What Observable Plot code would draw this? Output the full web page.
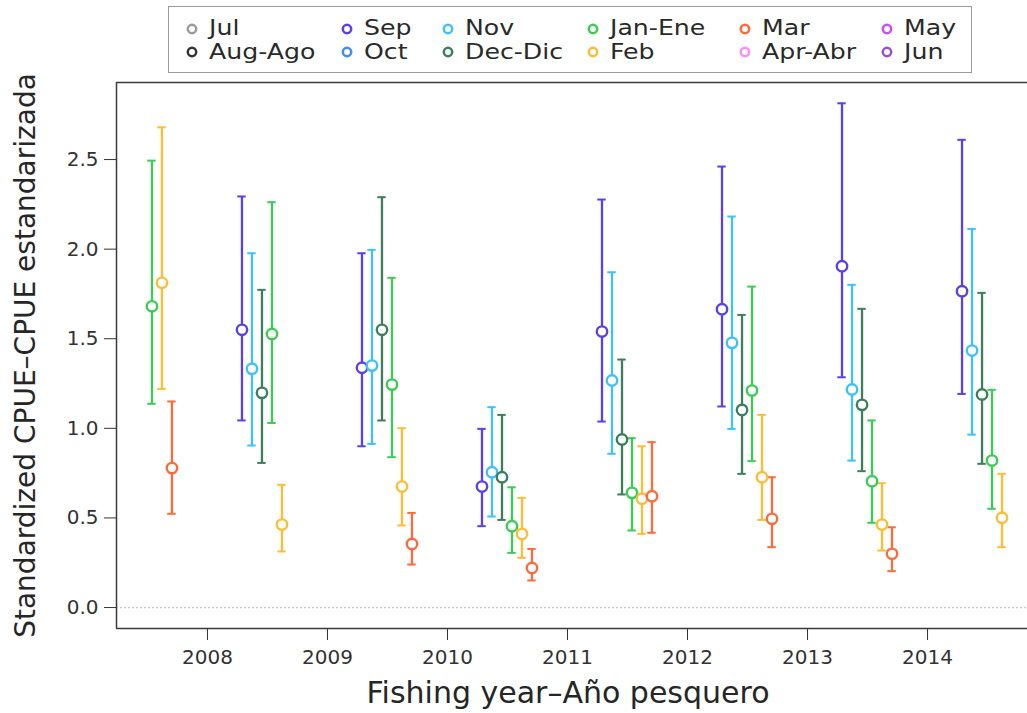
<!DOCTYPE html>
<html>
<head>
<meta charset="utf-8">
<script src="https://cdn.jsdelivr.net/npm/d3@7"></script>
<script src="https://cdn.jsdelivr.net/npm/@observablehq/plot@0.6"></script>
<style>
  html, body { margin: 0; padding: 0; background: #fff; }
  body { font-family: "DejaVu Sans", sans-serif; width: 1027px; overflow: hidden; }
  #legend { position: relative; width: 1027px; height: 80px; }
  #legend .box { position: absolute; left: 168px; top: 6px; width: 804px; height: 67px;
                 border: 1.5px solid #9a9a9a; box-sizing: border-box; }
  #legend .item { position: absolute; font-size: 21px; line-height: 21px; height: 21px; color: #2a2a2a;
                  white-space: nowrap; transform: scaleX(1.2); transform-origin: 0 50%; }
  #legend svg.mk { position: absolute; }
  #chart svg { display: block; }
</style>
</head>
<body>
<div id="legend"><div class="box"></div></div>
<div id="chart"></div>
<script>
// ---------- data ----------
const years = [2007, 2008, 2009, 2010, 2011, 2012, 2013, 2014];
const tickYears = [2008, 2009, 2010, 2011, 2012, 2013, 2014];
const yTicks = [0, 0.5, 1.0, 1.5, 2.0, 2.5];

const months = ["Jul", "Aug-Ago", "Sep", "Oct", "Nov", "Dec-Dic", "Jan-Ene", "Feb", "Mar", "Apr-Abr", "May", "Jun"];
const monthColors = ["#9a9a9a", "#333333", "#5a3ff0", "#3d8bff", "#3fc0fb", "#3c7f5c", "#3ccc55", "#ffbd35", "#ff6a3d", "#ff8cff", "#c94cf5", "#9a4fcf"];

// months that carry data, in plotting (dodge) order
const plottedMonths = ["Sep", "Nov", "Dec-Dic", "Jan-Ene", "Feb", "Mar"];

const sepMean = [null, 1.550, 1.338, 0.675, 1.540, 1.665, 1.905, 1.765];
const sepLow  = [null, 1.044, 0.900, 0.454, 1.038, 1.122, 1.285, 1.192];
const sepHigh = [null, 2.294, 1.977, 0.997, 2.277, 2.461, 2.814, 2.610];

const novMean = [null, 1.332, 1.350, 0.755, 1.267, 1.477, 1.217, 1.434];
const novLow  = [null, 0.904, 0.913, 0.508, 0.858, 0.997, 0.820, 0.965];
const novHigh = [null, 1.977, 1.996, 1.118, 1.871, 2.182, 1.801, 2.113];

const decMean = [null, 1.198, 1.550, 0.727, 0.938, 1.103, 1.131, 1.189];
const decLow  = [null, 0.807, 1.044, 0.489, 0.631, 0.746, 0.761, 0.802];
const decHigh = [null, 1.773, 2.290, 1.075, 1.384, 1.633, 1.667, 1.756];

const janMean = [1.681, 1.527, 1.244, 0.454, 0.640, 1.211, 0.705, 0.820];
const janLow  = [1.137, 1.030, 0.839, 0.305, 0.430, 0.817, 0.473, 0.551];
const janHigh = [2.494, 2.262, 1.840, 0.671, 0.945, 1.791, 1.044, 1.215];

const febMean = [1.812, 0.463, 0.675, 0.411, 0.607, 0.727, 0.463, 0.501];
const febLow  = [1.220, 0.313, 0.458, 0.277, 0.411, 0.489, 0.318, 0.337];
const febHigh = [2.680, 0.685, 1.001, 0.612, 0.900, 1.075, 0.694, 0.746];

const marMean = [0.778, null, 0.355, 0.221, 0.621, 0.495, 0.300, null];
const marLow  = [0.523, null, 0.240, 0.151, 0.417, 0.337, 0.203, null];
const marHigh = [1.150, null, 0.528, 0.327, 0.923, 0.727, 0.448, null];

const xTitle = "Fishing year\u2013A\u00f1o pesquero";
const yTitle = "Standardized CPUE\u2013CPUE estandarizada";

// ---------- build table ----------
const seriesByMonth = {
  "Sep": [sepMean, sepLow, sepHigh],
  "Nov": [novMean, novLow, novHigh],
  "Dec-Dic": [decMean, decLow, decHigh],
  "Jan-Ene": [janMean, janLow, janHigh],
  "Feb": [febMean, febLow, febHigh],
  "Mar": [marMean, marLow, marHigh]
};
const rows = [];
plottedMonths.forEach((m, k) => {
  const [mean, lo, hi] = seriesByMonth[m];
  years.forEach((yr, i) => {
    if (mean[i] == null) return;
    rows.push({month: m, year: yr, x: yr + 0.2875 + k / 12, mean: mean[i], lo: lo[i], hi: hi[i]});
  });
});

const xDomain = [2007.242, 2014.833];
const yDomain = [-0.117, 2.93];
const capHalf = 0.035;

const chart = Plot.plot({
  width: 1027,
  height: 633,
  marginLeft: 116,
  marginRight: 0,
  marginTop: 2,
  marginBottom: 85,
  style: {fontFamily: "DejaVu Sans, sans-serif", fontSize: "20px", color: "#333", background: "#fff", overflow: "visible"},
  x: {domain: xDomain, ticks: tickYears, tickFormat: d => String(d), tickSize: 12, tickPadding: 9, label: null},
  y: {domain: yDomain, ticks: yTicks, tickFormat: d => d.toFixed(1), tickSize: 12, tickPadding: 6, label: null},
  color: {domain: months, range: monthColors},
  marks: [
    Plot.ruleY([0], {stroke: "#c8c8c8", strokeDasharray: "2,2", strokeWidth: 1.2}),
    Plot.ruleX([xDomain[0]], {stroke: "#3a3a3a", strokeWidth: 1.5}),
    Plot.ruleY(yDomain, {stroke: "#3a3a3a", strokeWidth: 1.5}),
    Plot.ruleX(rows, {x: "x", y1: "lo", y2: "hi", stroke: "month", strokeWidth: 2.3}),
    Plot.ruleY(rows, {y: "hi", x1: d => d.x - capHalf, x2: d => d.x + capHalf, stroke: "month", strokeWidth: 2}),
    Plot.ruleY(rows, {y: "lo", x1: d => d.x - capHalf, x2: d => d.x + capHalf, stroke: "month", strokeWidth: 2}),
    Plot.dot(rows, {x: "x", y: "mean", r: 5.2, stroke: "month", fill: "white", strokeWidth: 2.4}),
    Plot.text([xTitle], {text: d => d, frameAnchor: "bottom", textAnchor: "middle", dx: -4, dy: 65, lineAnchor: "middle",
                         fontSize: 30, fill: "#262626"}),
    Plot.text([yTitle], {text: d => d, frameAnchor: "left", textAnchor: "middle", rotate: -90, dx: -90, lineAnchor: "middle",
                         fontSize: 28, fill: "#262626"})
  ]
});
document.getElementById("chart").appendChild(chart);

// ---------- legend (HTML above the SVG) ----------
const legend = document.getElementById("legend");
const colX = [191.7, 346.7, 448.3, 593.3, 745, 886.7];
const rowY = [28.5, 52];
months.forEach((m, i) => {
  const c = Math.floor(i / 2), r = i % 2;
  const cx = colX[c], cy = rowY[r];
  const mk = document.createElementNS("http://www.w3.org/2000/svg", "svg");
  mk.setAttribute("class", "mk");
  mk.setAttribute("width", 14); mk.setAttribute("height", 14);
  mk.style.left = (cx - 7) + "px"; mk.style.top = (cy - 7) + "px";
  const circ = document.createElementNS("http://www.w3.org/2000/svg", "circle");
  circ.setAttribute("cx", 7); circ.setAttribute("cy", 7); circ.setAttribute("r", 4.2);
  circ.setAttribute("fill", "none"); circ.setAttribute("stroke", monthColors[i]); circ.setAttribute("stroke-width", 2.5);
  mk.appendChild(circ);
  legend.appendChild(mk);
  const t = document.createElement("div");
  t.className = "item";
  t.textContent = m;
  t.style.left = (cx + 17) + "px";
  t.style.top = (cy - 10.5) + "px";
  legend.appendChild(t);
});
</script>
</body>
</html>
